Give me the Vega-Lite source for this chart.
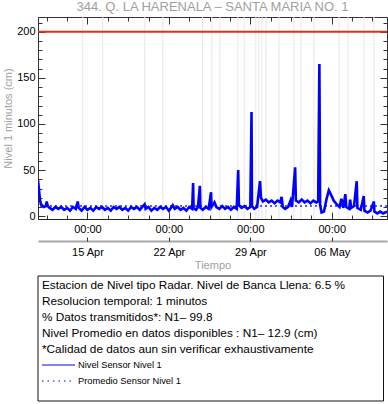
{
  "$schema": "https://vega.github.io/schema/vega-lite/v6.json",
  "padding": {"left": 2, "top": 0, "right": 0, "bottom": 0},
  "background": "white",
  "config": {"font": "Liberation Sans", "view": {"stroke": "#333", "strokeWidth": 1}},
  "datasets": {
    "series": [
      {"t": "2024-04-10T18:00", "v": 39}, {"t": "2024-04-10T20:00", "v": 29}, {"t": "2024-04-10T22:00", "v": 18},
      {"t": "2024-04-11T00:00", "v": 13}, {"t": "2024-04-11T06:00", "v": 10}, {"t": "2024-04-11T10:00", "v": 11},
      {"t": "2024-04-11T12:00", "v": 16}, {"t": "2024-04-11T14:00", "v": 11}, {"t": "2024-04-11T18:00", "v": 9},
      {"t": "2024-04-12T00:00", "v": 7}, {"t": "2024-04-12T06:00", "v": 10}, {"t": "2024-04-12T12:00", "v": 8},
      {"t": "2024-04-12T18:00", "v": 10}, {"t": "2024-04-13T00:00", "v": 7}, {"t": "2024-04-13T06:00", "v": 9},
      {"t": "2024-04-13T12:00", "v": 6}, {"t": "2024-04-13T18:00", "v": 10}, {"t": "2024-04-14T00:00", "v": 8},
      {"t": "2024-04-14T04:00", "v": 16}, {"t": "2024-04-14T06:00", "v": 9}, {"t": "2024-04-14T12:00", "v": 6},
      {"t": "2024-04-14T18:00", "v": 10}, {"t": "2024-04-15T00:00", "v": 7}, {"t": "2024-04-15T06:00", "v": 9},
      {"t": "2024-04-15T12:00", "v": 6}, {"t": "2024-04-15T18:00", "v": 10}, {"t": "2024-04-16T00:00", "v": 8},
      {"t": "2024-04-16T06:00", "v": 10}, {"t": "2024-04-16T12:00", "v": 7}, {"t": "2024-04-16T18:00", "v": 9},
      {"t": "2024-04-17T00:00", "v": 6}, {"t": "2024-04-17T06:00", "v": 10}, {"t": "2024-04-17T12:00", "v": 8},
      {"t": "2024-04-17T18:00", "v": 10}, {"t": "2024-04-18T00:00", "v": 7}, {"t": "2024-04-18T06:00", "v": 9},
      {"t": "2024-04-18T12:00", "v": 6}, {"t": "2024-04-18T18:00", "v": 10}, {"t": "2024-04-19T00:00", "v": 8},
      {"t": "2024-04-19T06:00", "v": 10}, {"t": "2024-04-19T12:00", "v": 7}, {"t": "2024-04-19T22:00", "v": 13},
      {"t": "2024-04-20T00:00", "v": 8}, {"t": "2024-04-20T06:00", "v": 10}, {"t": "2024-04-20T12:00", "v": 6},
      {"t": "2024-04-20T18:00", "v": 9}, {"t": "2024-04-21T00:00", "v": 7}, {"t": "2024-04-21T06:00", "v": 10},
      {"t": "2024-04-21T12:00", "v": 8}, {"t": "2024-04-21T18:00", "v": 10}, {"t": "2024-04-22T00:00", "v": 6},
      {"t": "2024-04-22T08:00", "v": 12}, {"t": "2024-04-22T12:00", "v": 8}, {"t": "2024-04-22T18:00", "v": 10},
      {"t": "2024-04-23T00:00", "v": 7}, {"t": "2024-04-23T06:00", "v": 9}, {"t": "2024-04-23T12:00", "v": 6},
      {"t": "2024-04-23T18:00", "v": 10}, {"t": "2024-04-24T00:00", "v": 8}, {"t": "2024-04-24T02:00", "v": 36},
      {"t": "2024-04-24T03:00", "v": 9}, {"t": "2024-04-24T08:00", "v": 7}, {"t": "2024-04-24T12:00", "v": 10},
      {"t": "2024-04-24T16:00", "v": 33}, {"t": "2024-04-24T17:00", "v": 9}, {"t": "2024-04-24T22:00", "v": 7},
      {"t": "2024-04-25T04:00", "v": 10}, {"t": "2024-04-25T10:00", "v": 8}, {"t": "2024-04-25T15:00", "v": 26},
      {"t": "2024-04-25T16:00", "v": 10}, {"t": "2024-04-25T22:00", "v": 15}, {"t": "2024-04-26T02:00", "v": 10},
      {"t": "2024-04-26T08:00", "v": 8}, {"t": "2024-04-26T14:00", "v": 11}, {"t": "2024-04-26T20:00", "v": 8},
      {"t": "2024-04-27T02:00", "v": 10}, {"t": "2024-04-27T08:00", "v": 7}, {"t": "2024-04-27T14:00", "v": 10},
      {"t": "2024-04-27T20:00", "v": 8}, {"t": "2024-04-27T23:00", "v": 50}, {"t": "2024-04-28T00:30", "v": 12},
      {"t": "2024-04-28T06:00", "v": 9}, {"t": "2024-04-28T12:00", "v": 11}, {"t": "2024-04-28T18:00", "v": 8},
      {"t": "2024-04-29T00:00", "v": 10}, {"t": "2024-04-29T02:30", "v": 113}, {"t": "2024-04-29T03:30", "v": 11},
      {"t": "2024-04-29T08:00", "v": 8}, {"t": "2024-04-29T14:00", "v": 10}, {"t": "2024-04-29T20:00", "v": 38},
      {"t": "2024-04-29T22:00", "v": 20}, {"t": "2024-04-30T02:00", "v": 16}, {"t": "2024-04-30T08:00", "v": 18},
      {"t": "2024-04-30T14:00", "v": 15}, {"t": "2024-04-30T20:00", "v": 17}, {"t": "2024-05-01T02:00", "v": 14},
      {"t": "2024-05-01T08:00", "v": 17}, {"t": "2024-05-01T14:00", "v": 15}, {"t": "2024-05-01T16:30", "v": 21},
      {"t": "2024-05-01T19:00", "v": 10}, {"t": "2024-05-02T00:00", "v": 8}, {"t": "2024-05-02T06:00", "v": 10},
      {"t": "2024-05-02T11:00", "v": 17}, {"t": "2024-05-02T14:00", "v": 10}, {"t": "2024-05-02T20:30", "v": 53},
      {"t": "2024-05-02T22:00", "v": 17}, {"t": "2024-05-03T04:00", "v": 15}, {"t": "2024-05-03T10:00", "v": 18},
      {"t": "2024-05-03T16:00", "v": 15}, {"t": "2024-05-03T22:00", "v": 17}, {"t": "2024-05-04T04:00", "v": 14},
      {"t": "2024-05-04T10:00", "v": 17}, {"t": "2024-05-04T16:00", "v": 15}, {"t": "2024-05-04T20:00", "v": 16},
      {"t": "2024-05-04T22:30", "v": 165}, {"t": "2024-05-05T00:00", "v": 12}, {"t": "2024-05-05T03:00", "v": 4},
      {"t": "2024-05-05T08:00", "v": 5}, {"t": "2024-05-05T13:00", "v": 18}, {"t": "2024-05-05T18:00", "v": 28},
      {"t": "2024-05-05T22:00", "v": 24}, {"t": "2024-05-06T04:00", "v": 17}, {"t": "2024-05-06T10:00", "v": 13},
      {"t": "2024-05-06T16:00", "v": 10}, {"t": "2024-05-06T20:00", "v": 19}, {"t": "2024-05-07T00:00", "v": 9},
      {"t": "2024-05-07T04:00", "v": 24}, {"t": "2024-05-07T06:00", "v": 10}, {"t": "2024-05-07T12:00", "v": 8},
      {"t": "2024-05-07T14:00", "v": 18}, {"t": "2024-05-07T16:00", "v": 9}, {"t": "2024-05-07T22:00", "v": 11},
      {"t": "2024-05-08T03:30", "v": 38}, {"t": "2024-05-08T05:00", "v": 9}, {"t": "2024-05-08T12:00", "v": 7},
      {"t": "2024-05-08T18:00", "v": 22}, {"t": "2024-05-08T19:30", "v": 6}, {"t": "2024-05-09T02:00", "v": 4},
      {"t": "2024-05-09T08:00", "v": 6}, {"t": "2024-05-09T15:00", "v": 16}, {"t": "2024-05-09T16:00", "v": 5},
      {"t": "2024-05-09T22:00", "v": 3}, {"t": "2024-05-10T04:00", "v": 5}, {"t": "2024-05-10T10:00", "v": 3},
      {"t": "2024-05-10T18:00", "v": 5}
    ],
    "gaps": [
      {"t": "2024-04-14T14:20"}, {"t": "2024-04-16T07:35"}, {"t": "2024-04-19T22:20"}, {"t": "2024-04-21T11:30"},
      {"t": "2024-04-24T21:30"}, {"t": "2024-04-25T16:40"}, {"t": "2024-04-26T09:10"}, {"t": "2024-04-27T22:25"},
      {"t": "2024-04-28T11:25"}, {"t": "2024-04-29T11:30"}, {"t": "2024-04-29T17:40"},
      {"t": "2024-04-30T00:00"}, {"t": "2024-04-30T08:10"}, {"t": "2024-05-01T11:00"},
      {"t": "2024-05-02T18:00"}, {"t": "2024-05-03T08:30"}, {"t": "2024-05-04T11:20"}, {"t": "2024-05-06T15:00"},
      {"t": "2024-05-07T09:30"}, {"t": "2024-05-08T18:35"}, {"t": "2024-05-09T15:10"}
    ],
    "ref": [{"lim": 200, "mean": 11}],
    "info": [
      {"k": 1, "txt": "Estacion de Nivel tipo Radar. Nivel de Banca Llena:  6.5 %"},
      {"k": 2, "txt": "Resolucion temporal: 1 minutos"},
      {"k": 3, "txt": "% Datos transmitidos*: N1– 99.8"},
      {"k": 4, "txt": "Nivel Promedio en datos disponibles : N1– 12.9 (cm)"},
      {"k": 5, "txt": "*Calidad de datos aun sin verificar exhaustivamente"}
    ],
    "leg": [
      {"k": 6, "s": "Nivel Sensor Nivel 1"},
      {"k": 7, "s": "Promedio Sensor Nivel 1"}
    ]
  },
  "width": 349,
  "height": 202,
  "title": {"text": "344. Q. LA HARENALA – SANTA MARIA NO. 1", "fontSize": 13, "fontWeight": "normal", "color": "#a0a0a0", "offset": 3, "anchor": "middle"},
  "resolve": {"axis": {"x": "independent", "y": "independent"}, "scale": {"x": "independent", "y": "independent"}},
  "layer": [
    {
      "data": {"name": "gaps"},
      "mark": {"type": "rule", "color": "#e6e6e6", "strokeWidth": 1},
      "encoding": {
        "x": {"field": "t", "type": "temporal",
          "scale": {"domain": [{"year": 2024, "month": "apr", "date": 10, "hours": 18}, {"year": 2024, "month": "may", "date": 10, "hours": 18}], "nice": false},
          "axis": {"orient": "bottom", "values": [{"year": 2024, "month": "apr", "date": 15}, {"year": 2024, "month": "apr", "date": 22}, {"year": 2024, "month": "apr", "date": 29}, {"year": 2024, "month": "may", "date": 6}],
            "format": "%H:%M", "ticks": false, "grid": false, "domain": true, "domainColor": "#222", "labelFontSize": 11, "labelColor": "#000", "labelPadding": 4, "title": null}}
      }
    },
    {
      "data": {"name": "ref"},
      "mark": {"type": "rule", "color": "#ee2a12", "strokeWidth": 2},
      "encoding": {
        "y": {"field": "lim", "type": "quantitative", "scale": {"domain": [-3, 216], "nice": false, "zero": false},
          "axis": {"orient": "left", "values": [0, 50, 100, 150, 200], "ticks": false, "grid": false, "labelFontSize": 11, "labelColor": "#000", "labelPadding": 3, "domainColor": "#333",
            "title": "Nivel 1 minutos (cm)", "titleColor": "#a0a0a0", "titleFontSize": 11, "titleFontWeight": "normal", "titlePadding": 3}}
      }
    },
    {
      "data": {"name": "ref"},
      "mark": {"type": "rule", "color": "#2222ff", "strokeWidth": 1.5, "strokeDash": [2, 3]},
      "encoding": {
        "y": {"field": "mean", "type": "quantitative", "scale": {"domain": [-3, 216], "nice": false, "zero": false},
          "axis": {"orient": "left", "offset": -7, "tickSize": 7, "values": [0, 50, 100, 150, 200], "domain": false, "labels": false, "grid": false, "title": null, "tickColor": "#333"}}
      }
    },
    {
      "data": {"name": "series"},
      "mark": {"type": "line", "color": "#0000ff", "strokeWidth": 2.6, "clip": true},
      "encoding": {
        "x": {"field": "t", "type": "temporal",
          "scale": {"domain": [{"year": 2024, "month": "apr", "date": 10, "hours": 18}, {"year": 2024, "month": "may", "date": 10, "hours": 18}], "nice": false},
          "axis": {"orient": "bottom", "offset": 22, "values": [{"year": 2024, "month": "apr", "date": 15}, {"year": 2024, "month": "apr", "date": 22}, {"year": 2024, "month": "apr", "date": 29}, {"year": 2024, "month": "may", "date": 6}],
            "format": "%d %b", "ticks": false, "grid": false, "domainColor": "#a8a8a8", "domainWidth": 2, "labelFontSize": 11, "labelColor": "#000", "labelPadding": 5,
            "title": "Tiempo", "titleColor": "#a0a0a0", "titleFontSize": 11, "titleFontWeight": "normal", "titlePadding": 2}},
        "y": {"field": "v", "type": "quantitative", "scale": {"domain": [-3, 216], "nice": false, "zero": false},
          "axis": {"orient": "left", "offset": -4, "tickSize": 4, "values": [10, 20, 30, 40, 60, 70, 80, 90, 110, 120, 130, 140, 160, 170, 180, 190, 210], "domain": false, "labels": false, "grid": false, "title": null, "tickColor": "#333"}}
      }
    },
    {
      "data": {"name": "series"},
      "mark": {"type": "point", "opacity": 0},
      "encoding": {
        "x": {"field": "t", "type": "temporal",
          "scale": {"domain": [{"year": 2024, "month": "apr", "date": 10, "hours": 18}, {"year": 2024, "month": "may", "date": 10, "hours": 18}], "nice": false},
          "axis": {"orient": "bottom", "offset": -7, "tickSize": 7, "values": [{"year": 2024, "month": "apr", "date": 15}, {"year": 2024, "month": "apr", "date": 22}, {"year": 2024, "month": "apr", "date": 29}, {"year": 2024, "month": "may", "date": 6}], "domain": false, "labels": false, "grid": false, "title": null, "tickColor": "#333"}},
        "y": {"field": "v", "type": "quantitative", "scale": {"domain": [-3, 216], "nice": false, "zero": false},
          "axis": {"orient": "right", "offset": -7, "tickSize": 7, "values": [0, 50, 100, 150, 200], "domain": false, "labels": false, "grid": false, "title": null, "tickColor": "#333"}}
      }
    },
    {
      "data": {"name": "series"},
      "mark": {"type": "point", "opacity": 0},
      "encoding": {
        "x": {"field": "t", "type": "temporal",
          "scale": {"domain": [{"year": 2024, "month": "apr", "date": 10, "hours": 18}, {"year": 2024, "month": "may", "date": 10, "hours": 18}], "nice": false},
          "axis": {"orient": "bottom", "offset": -4, "tickSize": 4, "values": [
            {"year": 2024, "month": "apr", "date": 11, "hours": 12}, {"year": 2024, "month": "apr", "date": 13, "hours": 6}, {"year": 2024, "month": "apr", "date": 16, "hours": 18},
            {"year": 2024, "month": "apr", "date": 18, "hours": 12}, {"year": 2024, "month": "apr", "date": 20, "hours": 6}, {"year": 2024, "month": "apr", "date": 23, "hours": 18},
            {"year": 2024, "month": "apr", "date": 25, "hours": 12}, {"year": 2024, "month": "apr", "date": 27, "hours": 6}, {"year": 2024, "month": "apr", "date": 30, "hours": 18},
            {"year": 2024, "month": "may", "date": 2, "hours": 12}, {"year": 2024, "month": "may", "date": 4, "hours": 6}, {"year": 2024, "month": "may", "date": 7, "hours": 18},
            {"year": 2024, "month": "may", "date": 9, "hours": 12}], "domain": false, "labels": false, "grid": false, "title": null, "tickColor": "#333"}},
        "y": {"field": "v", "type": "quantitative", "scale": {"domain": [-3, 216], "nice": false, "zero": false},
          "axis": {"orient": "right", "offset": -4, "tickSize": 4, "values": [10, 20, 30, 40, 60, 70, 80, 90, 110, 120, 130, 140, 160, 170, 180, 190, 210], "domain": false, "labels": false, "grid": false, "title": null, "tickColor": "#333"}}
      }
    },
    {
      "data": {"name": "series"},
      "mark": {"type": "point", "opacity": 0},
      "encoding": {
        "x": {"field": "t", "type": "temporal",
          "scale": {"domain": [{"year": 2024, "month": "apr", "date": 10, "hours": 18}, {"year": 2024, "month": "may", "date": 10, "hours": 18}], "nice": false},
          "axis": {"orient": "bottom", "offset": 18, "tickSize": 4, "values": [{"year": 2024, "month": "apr", "date": 15}, {"year": 2024, "month": "apr", "date": 22}, {"year": 2024, "month": "apr", "date": 29}, {"year": 2024, "month": "may", "date": 6}], "domain": false, "labels": false, "grid": false, "title": null, "tickColor": "#333"}},
        "y": {"field": "v", "type": "quantitative", "scale": {"domain": [-3, 216], "nice": false, "zero": false}, "axis": null}
      }
    },
    {
      "data": {"name": "series"},
      "mark": {"type": "point", "opacity": 0},
      "encoding": {
        "x": {"field": "t", "type": "temporal",
          "scale": {"domain": [{"year": 2024, "month": "apr", "date": 10, "hours": 18}, {"year": 2024, "month": "may", "date": 10, "hours": 18}], "nice": false},
          "axis": {"orient": "top", "offset": -7, "tickSize": 7, "values": [{"year": 2024, "month": "apr", "date": 15}, {"year": 2024, "month": "apr", "date": 22}, {"year": 2024, "month": "apr", "date": 29}, {"year": 2024, "month": "may", "date": 6}], "domain": false, "labels": false, "grid": false, "title": null, "tickColor": "#333"}},
        "y": {"field": "v", "type": "quantitative", "scale": {"domain": [-3, 216], "nice": false, "zero": false}, "axis": null}
      }
    },
    {
      "data": {"name": "series"},
      "mark": {"type": "point", "opacity": 0},
      "encoding": {
        "x": {"field": "t", "type": "temporal",
          "scale": {"domain": [{"year": 2024, "month": "apr", "date": 10, "hours": 18}, {"year": 2024, "month": "may", "date": 10, "hours": 18}], "nice": false},
          "axis": {"orient": "top", "offset": -4, "tickSize": 4, "values": [
            {"year": 2024, "month": "apr", "date": 11, "hours": 12}, {"year": 2024, "month": "apr", "date": 13, "hours": 6}, {"year": 2024, "month": "apr", "date": 16, "hours": 18},
            {"year": 2024, "month": "apr", "date": 18, "hours": 12}, {"year": 2024, "month": "apr", "date": 20, "hours": 6}, {"year": 2024, "month": "apr", "date": 23, "hours": 18},
            {"year": 2024, "month": "apr", "date": 25, "hours": 12}, {"year": 2024, "month": "apr", "date": 27, "hours": 6}, {"year": 2024, "month": "apr", "date": 30, "hours": 18},
            {"year": 2024, "month": "may", "date": 2, "hours": 12}, {"year": 2024, "month": "may", "date": 4, "hours": 6}, {"year": 2024, "month": "may", "date": 7, "hours": 18},
            {"year": 2024, "month": "may", "date": 9, "hours": 12}], "domain": false, "labels": false, "grid": false, "title": null, "tickColor": "#333"}},
        "y": {"field": "v", "type": "quantitative", "scale": {"domain": [-3, 216], "nice": false, "zero": false}, "axis": null}
      }
    },
    {
      "data": {"name": "ref"},
      "mark": {"type": "rect", "fill": null, "stroke": "#111", "strokeWidth": 1, "clip": false},
      "encoding": {
        "x": {"datum": 0, "type": "quantitative", "scale": {"domain": [0, 349], "nice": false, "zero": false}, "axis": null},
        "x2": {"datum": 345.5},
        "y": {"datum": 0.4375, "type": "quantitative", "scale": {"domain": [-15.75, -3.125], "reverse": true, "nice": false, "zero": false}, "axis": null},
        "y2": {"datum": 8.25}
      }
    },
    {
      "data": {"name": "info"},
      "mark": {"type": "text", "align": "left", "baseline": "middle", "fontSize": 11.8, "color": "#000", "clip": false},
      "encoding": {
        "x": {"datum": 4, "type": "quantitative", "scale": {"domain": [0, 349], "nice": false, "zero": false}, "axis": null},
        "y": {"field": "k", "type": "quantitative", "scale": {"domain": [-15.75, -3.125], "reverse": true, "nice": false, "zero": false}, "axis": null},
        "text": {"field": "txt"}
      }
    },
    {
      "data": {"name": "leg"},
      "mark": {"type": "rule", "color": "#0000ff", "strokeWidth": 1.2, "clip": false},
      "encoding": {
        "x": {"datum": 4, "type": "quantitative", "scale": {"domain": [0, 349], "nice": false, "zero": false}, "axis": null},
        "x2": {"datum": 37},
        "y": {"field": "k", "type": "quantitative", "scale": {"domain": [-15.75, -3.125], "reverse": true, "nice": false, "zero": false}, "axis": null},
        "strokeDash": {"field": "s", "type": "nominal", "scale": {"domain": ["Nivel Sensor Nivel 1", "Promedio Sensor Nivel 1"], "range": [[1, 0], [1.5, 4]]}, "legend": null}
      }
    },
    {
      "data": {"name": "leg"},
      "mark": {"type": "text", "align": "left", "baseline": "middle", "fontSize": 9.3, "color": "#000", "clip": false},
      "encoding": {
        "x": {"datum": 40, "type": "quantitative", "scale": {"domain": [0, 349], "nice": false, "zero": false}, "axis": null},
        "y": {"field": "k", "type": "quantitative", "scale": {"domain": [-15.75, -3.125], "reverse": true, "nice": false, "zero": false}, "axis": null},
        "text": {"field": "s"}
      }
    }
  ]
}
